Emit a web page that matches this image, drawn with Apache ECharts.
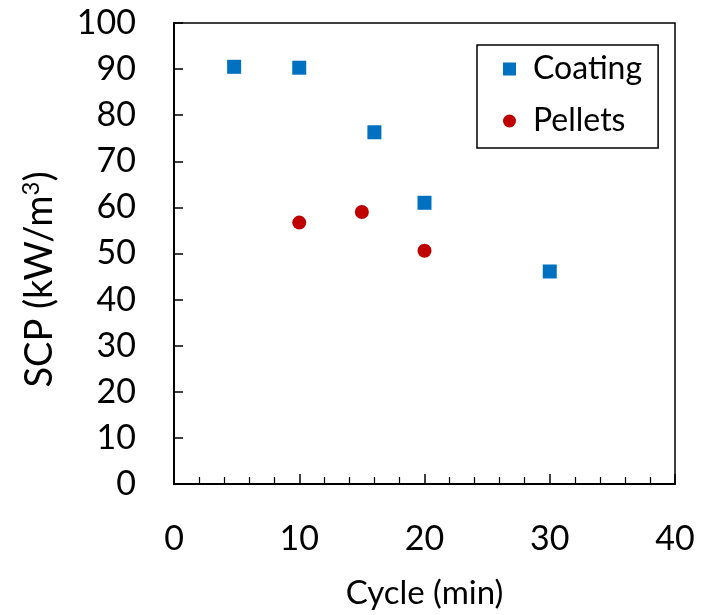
<!DOCTYPE html>
<html>
<head>
<meta charset="utf-8">
<script src="https://cdn.jsdelivr.net/npm/echarts@6/dist/echarts.min.js"></script>
<style>html,body{margin:0;padding:0;background:#fff}#c{width:710px;height:615px}</style>
</head>
<body>
<div id="c"></div>
<script>
const coatingX = [4.8, 10, 16, 20, 30];
const coatingY = [90.5, 90.3, 76.3, 61.0, 46.1];
const pelletsX = [10, 15, 20];
const pelletsY = [56.7, 59.0, 50.6];
const xTicks = [0, 10, 20, 30, 40];
const yTicks = [0, 10, 20, 30, 40, 50, 60, 70, 80, 90, 100];

const FONT = 'Lato';
const chart = echarts.init(document.getElementById('c'), null, {renderer: 'canvas'});
chart.setOption({
  backgroundColor: '#fff',
  animation: false,
  textStyle: {fontFamily: FONT, color: '#000'},
  grid: {left: 174, right: 35, top: 23, bottom: 128, show: true, borderColor: '#000', borderWidth: 1.5, containLabel: false},
  legend: {
    orient: 'vertical', left: 477, top: 45,
    padding: [8, 16, 11, 26],
    borderColor: '#000', borderWidth: 1.5, backgroundColor: '#fff',
    itemWidth: 13, itemHeight: 13, itemGap: 20,
    textStyle: {fontFamily: FONT, fontSize: 32, color: '#000', padding: [0, 0, 0, 12]},
    data: [{name: 'Coating', icon: 'rect'}, {name: 'Pellets', icon: 'circle'}]
  },
  xAxis: {
    type: 'value', min: xTicks[0], max: xTicks[xTicks.length - 1], interval: 10,
    name: 'Cycle (min)', nameLocation: 'middle', nameGap: 93,
    nameTextStyle: {fontFamily: FONT, fontSize: 33, color: '#000'},
    axisLine: {show: true, lineStyle: {color: '#000', width: 2}},
    axisTick: {show: true, inside: true, length: 10, lineStyle: {color: '#000', width: 1.5}},
    minorTick: {show: true, splitNumber: 5, length: 7, lineStyle: {color: '#000', width: 1.2}},
    splitLine: {show: false},
    axisLabel: {fontFamily: FONT, fontSize: 34, color: '#000', margin: 38}
  },
  yAxis: {
    type: 'value', min: yTicks[0], max: yTicks[yTicks.length - 1], interval: 10,
    name: 'SCP (kW/m{sup|3})', nameLocation: 'middle', nameGap: 113, nameRotate: 90,
    nameTextStyle: {fontFamily: FONT, fontSize: 38, color: '#000', padding: [0, 52, 0, 0],
      rich: {sup: {fontFamily: FONT, fontSize: 24, color: '#000', verticalAlign: 'top', padding: [0, 0, 18, 0]}}},
    axisLine: {show: true, lineStyle: {color: '#000', width: 2}},
    axisTick: {show: true, inside: true, length: 9, lineStyle: {color: '#000', width: 1.5}},
    splitLine: {show: false},
    axisLabel: {fontFamily: FONT, fontSize: 34, color: '#000', margin: 38}
  },
  series: [
    {name: 'Coating', type: 'scatter', symbol: 'rect', symbolSize: 14,
     itemStyle: {color: '#0070C0', opacity: 1}, data: coatingX.map((x, i) => [x, coatingY[i]])},
    {name: 'Pellets', type: 'scatter', symbol: 'circle', symbolSize: 14,
     itemStyle: {color: '#C00000', opacity: 1}, data: pelletsX.map((x, i) => [x, pelletsY[i]])}
  ]
});
</script>
</body>
</html>
